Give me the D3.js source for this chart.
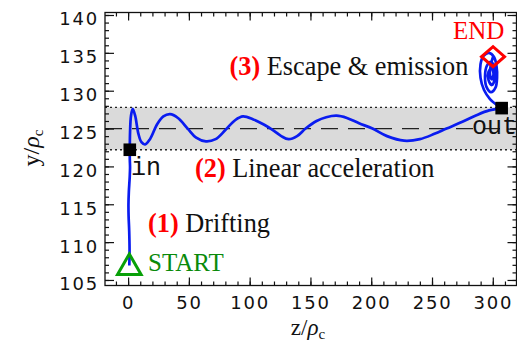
<!DOCTYPE html>
<html>
<head>
<meta charset="utf-8">
<script src="https://cdn.jsdelivr.net/npm/d3@7"></script>
<style>
  html, body { margin: 0; padding: 0; background: #fff; }
  svg { display: block; }
</style>
</head>
<body>
<svg id="chart"></svg>
<script>
// data, [z, y] in units of rho_c
const drift = [
  [1.0, 106.9], [1.2, 109.0], [0.9, 111.5], [0.4, 113.5], [0.3, 115.0],
  [0.6, 116.6], [1.3, 118.5], [1.6, 119.8], [1.4, 121.0], [1.4, 122.2]
];
const accel = [
  [1.4, 122.2], [1.6, 124.5], [2.4, 126.7], [3.8, 127.6], [5.8, 126.7],
  [8.5, 124.3], [11, 123.2], [14, 122.9], [18, 123.6], [24, 125.6],
  [29, 126.6], [34.5, 126.9], [41, 126.4], [49, 125.0], [56, 123.8],
  [64, 123.3], [72, 123.6], [80, 124.8], [88, 126.1], [94.5, 126.6],
  [103, 126.2], [112, 125.5], [120, 124.7], [126, 124.0], [132, 123.6],
  [139, 124.0], [146, 125.0], [155, 126.0], [163, 126.5], [171.5, 126.7],
  [180, 126.4], [190, 125.7], [201, 125.0], [213, 124.0], [227, 123.4],
  [240, 123.6], [252, 124.3], [262, 125.0], [275, 125.9], [287, 126.8],
  [297, 127.4], [307.3, 127.7]
];
const escape = [
  [307.3, 127.7], [302.6, 128.2], [297.7, 128.9], [292.8, 130.1], [289.9, 131.7],
  [289.9, 133.5], [292.4, 134.6], [296.9, 135.0], [301.0, 134.45], [303.0, 133.3],
  [303.5, 131.7], [302.2, 130.4], [298.5, 129.8], [294.8, 130.5], [293.6, 131.8],
  [295.2, 133.3], [298.5, 133.8], [301.4, 133.0], [301.8, 131.7], [299.3, 130.75],
  [296.5, 131.4], [296.5, 132.5], [299.0, 133.0], [300.6, 132.2], [299.3, 131.5],
  [297.7, 132.1], [298.5, 133.5], [300.2, 134.45]
];
const startPt = [1.0, 106.9];
const endPt = [300.2, 134.5];
const inPt = [1.4, 122.2];
const outPt = [307.3, 127.7];
const band = [122.2, 127.8];
const bandCenter = 125;

const xTicks = [0, 50, 100, 150, 200, 250, 300];
const yTicks = [105, 110, 115, 120, 125, 130, 135, 140];

const width = 517, height = 344;
const svg = d3.select('#chart').attr('width', width).attr('height', height);

const x = d3.scaleLinear().domain([-19, 319.5]).range([105, 516.5]);
const y = d3.scaleLinear().domain([104.27, 140.33]).range([285.5, 12.5]);
const [x0, x1] = x.range();
const [y0, y1] = y.range();

svg.append('clipPath').attr('id', 'clip')
  .append('rect').attr('x', x0).attr('y', y1).attr('width', x1 - x0).attr('height', y0 - y1);

const plot = svg.append('g').attr('clip-path', 'url(#clip)');

// shaded band
plot.append('rect')
  .attr('x', x0).attr('width', x1 - x0)
  .attr('y', y(band[1])).attr('height', y(band[0]) - y(band[1]))
  .attr('fill', '#dadada');

plot.selectAll('.edge').data(band).enter().append('line')
  .attr('x1', x0).attr('x2', x1)
  .attr('y1', d => y(d)).attr('y2', d => y(d))
  .attr('stroke', '#222').attr('stroke-width', 1.3)
  .attr('stroke-dasharray', '2,3');

plot.append('line')
  .attr('x1', x0).attr('x2', x1)
  .attr('y1', y(bandCenter)).attr('y2', y(bandCenter))
  .attr('stroke', '#222').attr('stroke-width', 1.3)
  .attr('stroke-dasharray', '17,10');

// trajectory
const line = d3.line().x(d => x(d[0])).y(d => y(d[1])).curve(d3.curveCatmullRom.alpha(0.5));
[drift, accel, escape].forEach(seg => {
  plot.append('path').attr('d', line(seg))
    .attr('fill', 'none').attr('stroke', '#0a1cf0').attr('stroke-width', 2.7)
    .attr('stroke-linejoin', 'round');
});

// markers
svg.selectAll('.sq').data([inPt, outPt]).enter().append('rect')
  .attr('x', d => x(d[0]) - 6.3).attr('y', d => y(d[1]) - 6.3)
  .attr('width', 12.6).attr('height', 12.6).attr('fill', '#000');

const tri = d3.symbol().type(d3.symbolTriangle).size(240);
svg.append('path').attr('d', tri())
  .attr('transform', `translate(${x(startPt[0])},${y(startPt[1]) + 2})`)
  .attr('fill', 'none').attr('stroke', '#08a008').attr('stroke-width', 3);

svg.append('path')
  .attr('d', d3.line()([[-11.5, 0], [0, -10], [11.5, 0], [0, 10]]) + 'Z')
  .attr('transform', `translate(${x(endPt[0])},${y(endPt[1])})`)
  .attr('fill', 'none').attr('stroke', '#ff0000').attr('stroke-width', 3);

// axes, ticks inward
const tickFont = g => g.selectAll('text')
  .attr('font-family', 'DejaVu Sans').attr('font-size', 18)
  .attr('letter-spacing', 1.8).attr('fill', '#111');

const xMinor = d3.range(-10, 320, 10);
const yMinor = d3.range(105, 141, 1);

function clean(g) { g.select('.domain').remove(); g.selectAll('line').attr('stroke', '#111').attr('stroke-width', 1.2); }

svg.append('g').attr('transform', `translate(0,${y0})`)
  .call(d3.axisBottom(x).tickValues(xMinor).tickSize(-4).tickFormat(''))
  .call(clean);
svg.append('g').attr('transform', `translate(0,${y0})`)
  .call(d3.axisBottom(x).tickValues(xTicks).tickSize(-8).tickPadding(11))
  .call(clean).call(tickFont);
svg.append('g').attr('transform', `translate(0,${y1})`)
  .call(d3.axisTop(x).tickValues(xMinor).tickSize(-4).tickFormat(''))
  .call(clean);
svg.append('g').attr('transform', `translate(0,${y1})`)
  .call(d3.axisTop(x).tickValues(xTicks).tickSize(-8).tickFormat(''))
  .call(clean);

svg.append('g').attr('transform', `translate(${x0},0)`)
  .call(d3.axisLeft(y).tickValues(yMinor).tickSize(-4).tickFormat(''))
  .call(clean);
svg.append('g').attr('transform', `translate(${x0},0)`)
  .call(d3.axisLeft(y).tickValues(yTicks).tickSize(-9).tickPadding(5))
  .call(clean).call(tickFont)
  .selectAll('text').attr('x', -6).attr('dy', '0.55em');
svg.append('g').attr('transform', `translate(${x1},0)`)
  .call(d3.axisRight(y).tickValues(yMinor).tickSize(-4).tickFormat(''))
  .call(clean);
svg.append('g').attr('transform', `translate(${x1},0)`)
  .call(d3.axisRight(y).tickValues(yTicks).tickSize(-9).tickFormat(''))
  .call(clean);

// frame
svg.append('rect').attr('x', x0).attr('y', y1).attr('width', x1 - x0).attr('height', y0 - y1)
  .attr('fill', 'none').attr('stroke', '#111').attr('stroke-width', 1.3);

// axis titles
const xt = svg.append('text').attr('x', 308).attr('y', 335)
  .attr('text-anchor', 'middle').attr('font-family', 'Liberation Serif').attr('font-size', 23).attr('fill', '#111');
xt.append('tspan').text('z/');
xt.append('tspan').attr('font-style', 'italic').text('ρ');
xt.append('tspan').attr('font-size', 15).attr('dy', 4).text('c');

const yt = svg.append('text').attr('transform', 'translate(39,148) rotate(-90)')
  .attr('text-anchor', 'middle').attr('font-family', 'Liberation Serif').attr('font-size', 24).attr('fill', '#111');
yt.append('tspan').text('y/');
yt.append('tspan').attr('font-style', 'italic').text('ρ');
yt.append('tspan').attr('font-size', 15).attr('dy', 4).text('c');

// annotations
const notes = [
  { x: 148, y: 232, num: '(1)', text: ' Drifting' },
  { x: 195, y: 177, num: '(2)', text: ' Linear acceleration' },
  { x: 229.5, y: 74.5, num: '(3)', text: ' Escape & emission' }
];
notes.forEach(n => {
  const t = svg.append('text').attr('x', n.x).attr('y', n.y)
    .attr('font-family', 'Liberation Serif').attr('font-size', 26.3).attr('fill', '#111');
  t.append('tspan').attr('font-weight', 'bold').attr('fill', '#f00').text(n.num);
  t.append('tspan').text(n.text);
});

svg.append('text').attr('x', 148).attr('y', 271)
  .attr('font-family', 'Liberation Serif').attr('font-size', 25).attr('fill', '#0a8a0a').text('START');
svg.append('text').attr('x', 453).attr('y', 39)
  .attr('font-family', 'Liberation Serif').attr('font-size', 25).attr('fill', '#f00').text('END');
svg.append('text').attr('x', 131).attr('y', 175)
  .attr('font-family', 'Liberation Mono').attr('font-size', 25).attr('fill', '#111').text('in');
svg.append('text').attr('x', 472).attr('y', 133.5)
  .attr('font-family', 'Liberation Mono').attr('font-size', 25).attr('fill', '#111').text('out');
</script>
</body>
</html>
